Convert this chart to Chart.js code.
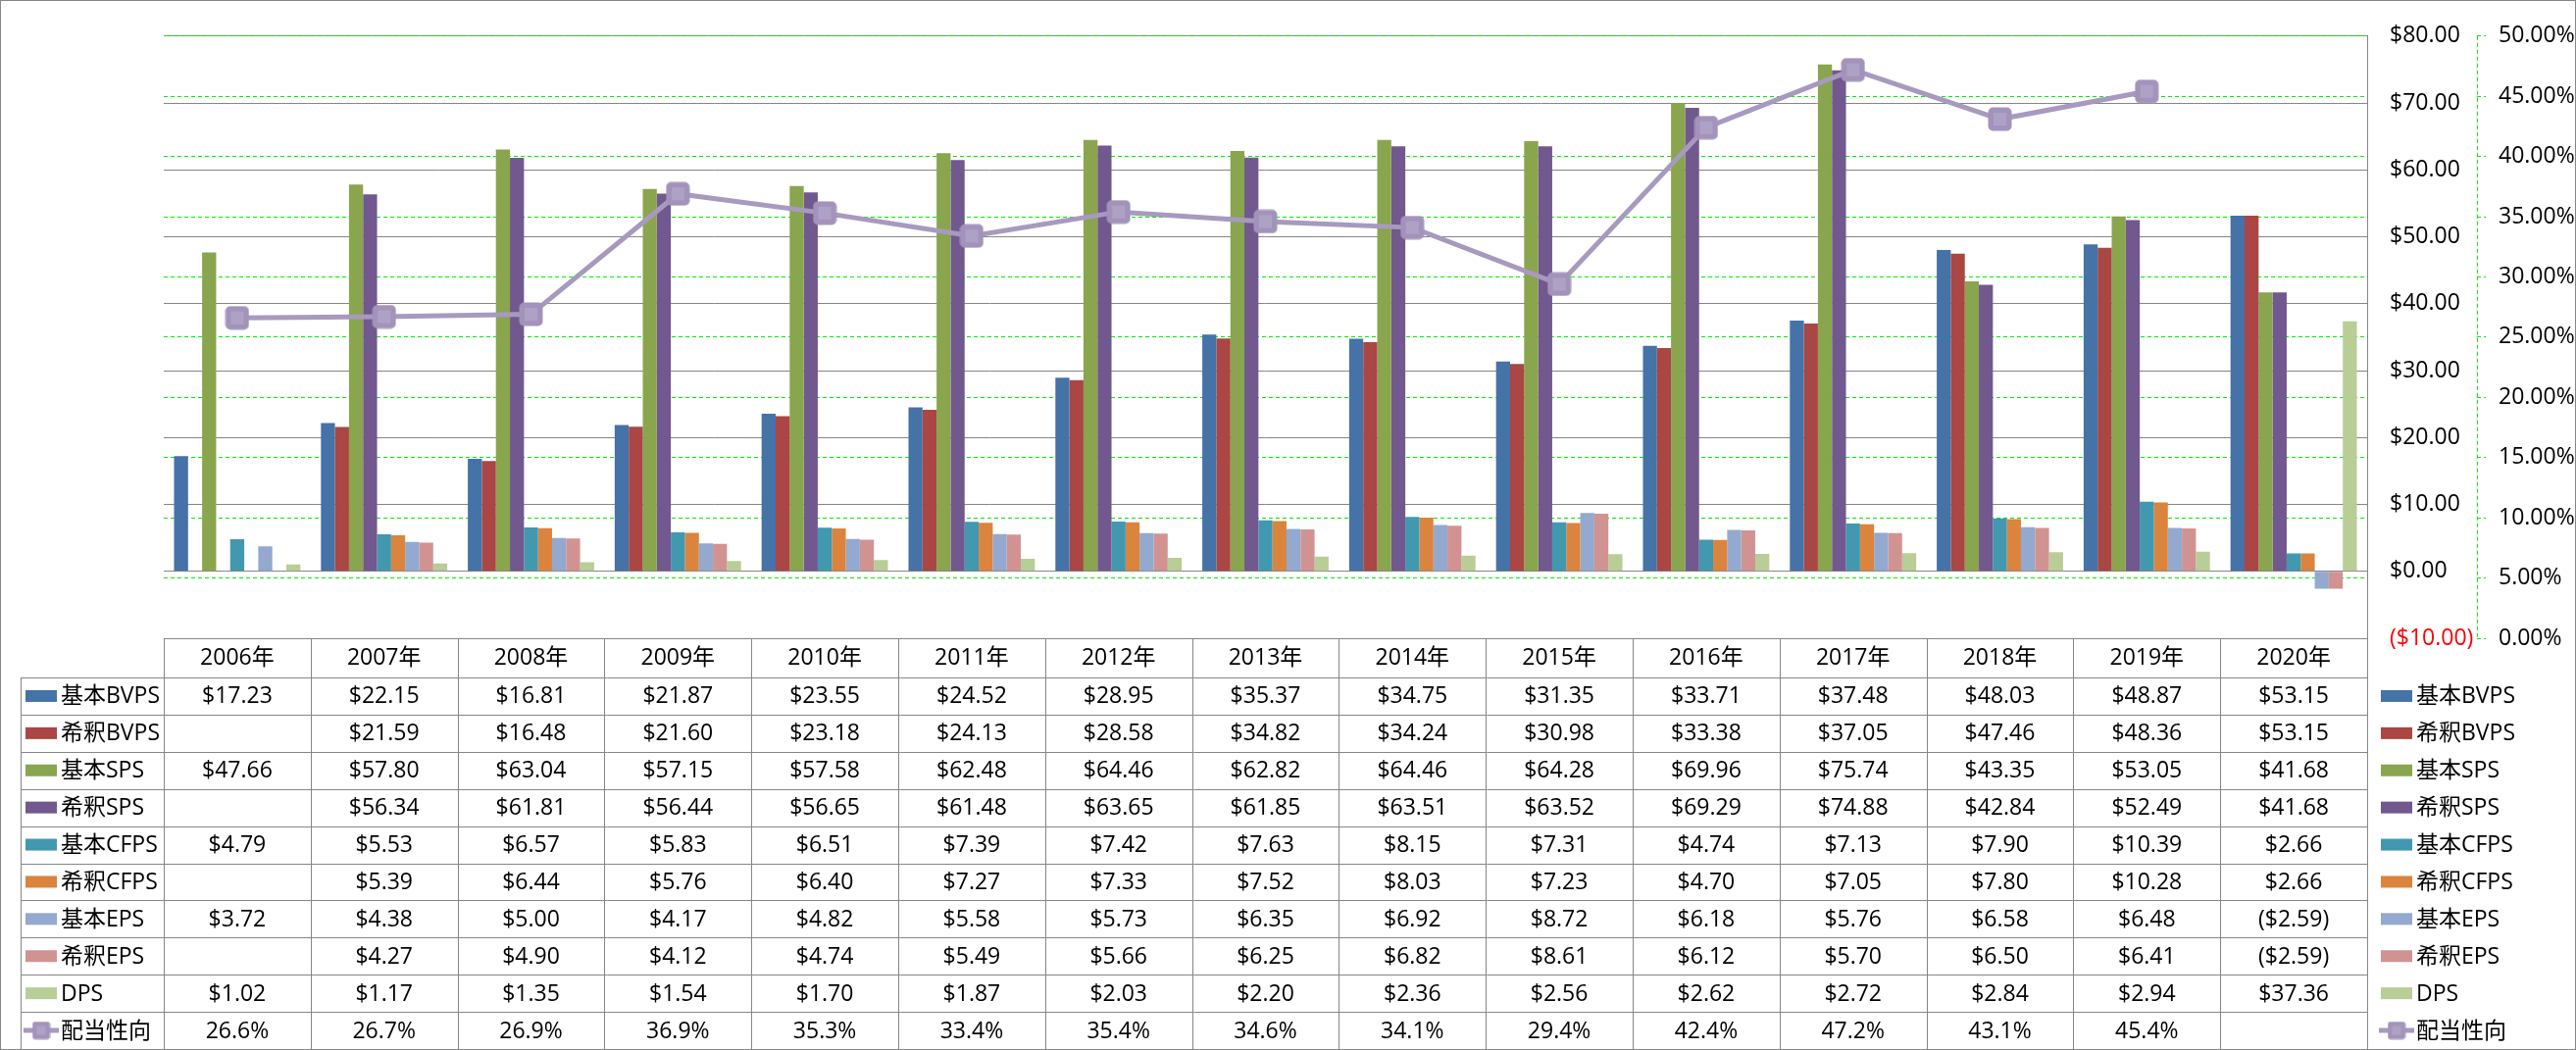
<!DOCTYPE html>
<html>
<head>
<meta charset="utf-8">
<title>BVPS / SPS / CFPS / EPS / DPS</title>
<script src="https://cdn.jsdelivr.net/npm/chart.js@4.4.0/dist/chart.umd.min.js"></script>
<style>
  body { margin: 0; background: #fff; }
  canvas { display: block; }
</style>
</head>
<body>
<canvas id="chart" width="2627" height="1071"></canvas>
<script>
// data
const years = ['2006年', '2007年', '2008年', '2009年', '2010年', '2011年', '2012年', '2013年',
               '2014年', '2015年', '2016年', '2017年', '2018年', '2019年', '2020年'];

const basicBvps   = [17.23, 22.15, 16.81, 21.87, 23.55, 24.52, 28.95, 35.37, 34.75, 31.35, 33.71, 37.48, 48.03, 48.87, 53.15];
const dilutedBvps = [null, 21.59, 16.48, 21.60, 23.18, 24.13, 28.58, 34.82, 34.24, 30.98, 33.38, 37.05, 47.46, 48.36, 53.15];
const basicSps    = [47.66, 57.80, 63.04, 57.15, 57.58, 62.48, 64.46, 62.82, 64.46, 64.28, 69.96, 75.74, 43.35, 53.05, 41.68];
const dilutedSps  = [null, 56.34, 61.81, 56.44, 56.65, 61.48, 63.65, 61.85, 63.51, 63.52, 69.29, 74.88, 42.84, 52.49, 41.68];
const basicCfps   = [4.79, 5.53, 6.57, 5.83, 6.51, 7.39, 7.42, 7.63, 8.15, 7.31, 4.74, 7.13, 7.90, 10.39, 2.66];
const dilutedCfps = [null, 5.39, 6.44, 5.76, 6.40, 7.27, 7.33, 7.52, 8.03, 7.23, 4.70, 7.05, 7.80, 10.28, 2.66];
const basicEps    = [3.72, 4.38, 5.00, 4.17, 4.82, 5.58, 5.73, 6.35, 6.92, 8.72, 6.18, 5.76, 6.58, 6.48, -2.59];
const dilutedEps  = [null, 4.27, 4.90, 4.12, 4.74, 5.49, 5.66, 6.25, 6.82, 8.61, 6.12, 5.70, 6.50, 6.41, -2.59];
const dps         = [1.02, 1.17, 1.35, 1.54, 1.70, 1.87, 2.03, 2.20, 2.36, 2.56, 2.62, 2.72, 2.84, 2.94, 37.36];
const payoutRatio = [26.6, 26.7, 26.9, 36.9, 35.3, 33.4, 35.4, 34.6, 34.1, 29.4, 42.4, 47.2, 43.1, 45.4, null];

const barNames = ['基本BVPS', '希釈BVPS', '基本SPS', '希釈SPS', '基本CFPS', '希釈CFPS', '基本EPS', '希釈EPS', 'DPS'];
const barValues = [basicBvps, dilutedBvps, basicSps, dilutedSps, basicCfps, dilutedCfps, basicEps, dilutedEps, dps];
const lineName = '配当性向';

// styles
const barColors = ['#4572A7', '#AA4643', '#89A54E', '#71588F', '#4198AF', '#DB843D', '#93A9CF', '#D19392', '#B9CD96'];
const lineColor = '#A899BF';
const gridGray = '#868686';
const gridGreen = '#00EE00';
const tableFont = '23px "Open Sans", "Noto Sans CJK JP", sans-serif';
const legendFont = '23px "Open Sans", "Noto Sans CJK JP", sans-serif';
const axisFont = { family: '"Open Sans", sans-serif', size: 23 };

// rounded square marker
function makeMarker(size) {
  const c = document.createElement('canvas');
  c.width = size; c.height = size;
  const g = c.getContext('2d');
  const r = Math.round(size * 0.18);
  g.fillStyle = '#A393BB';
  g.beginPath();
  g.roundRect(0.5, 0.5, size - 1, size - 1, r);
  g.fill();
  g.fillStyle = '#AEA1C6';
  const p = Math.round(size * 0.25);
  g.fillRect(p, p, size - 2 * p, size - 2 * p);
  return c;
}
const bigMarker = makeMarker(25);
const smallMarker = makeMarker(19);

function money(v) {
  if (v === null || v === undefined) return '';
  return v < 0 ? '($' + Math.abs(v).toFixed(2) + ')' : '$' + v.toFixed(2);
}

const datasets = barValues.map((vals, i) => ({
  type: 'bar',
  label: barNames[i],
  data: vals,
  backgroundColor: barColors[i],
  borderWidth: 0,
  yAxisID: 'y',
  categoryPercentage: 0.86,
  barPercentage: 1.0
}));
datasets.push({
  type: 'line',
  label: lineName,
  data: payoutRatio,
  yAxisID: 'y2',
  borderColor: lineColor,
  borderWidth: 5,
  pointStyle: bigMarker,
  pointRadius: 13,
  tension: 0,
  spanGaps: false,
  order: -1
});

// data table under the plot and legend on the right
const tablePlugin = {
  id: 'dataTable',
  afterDraw(chart) {
    const ctx = chart.ctx;
    const area = chart.chartArea;
    const xs = chart.scales.x;
    const W = chart.width, H = chart.height;
    const colW = (area.right - area.left) / years.length;
    const headTop = area.bottom;
    const bodyTop = headTop + 40;
    const bodyBottom = H - 1;
    const labelLeft = 21;
    const nRows = barNames.length + 1;
    const rowH = (bodyBottom - bodyTop) / nRows;
    const px = v => Math.round(v) + 0.5;

    ctx.save();
    // grid lines of the table
    ctx.strokeStyle = gridGray;
    ctx.lineWidth = 1;
    ctx.beginPath();
    ctx.moveTo(area.left, px(headTop)); ctx.lineTo(area.right, px(headTop));
    for (let k = 0; k <= nRows; k++) {
      const y = px(bodyTop + k * rowH);
      ctx.moveTo(labelLeft, y); ctx.lineTo(area.right, y);
    }
    ctx.moveTo(px(labelLeft), bodyTop); ctx.lineTo(px(labelLeft), bodyBottom);
    for (let j = 0; j <= years.length; j++) {
      const x = px(area.left + j * colW);
      ctx.moveTo(x, headTop); ctx.lineTo(x, bodyBottom);
    }
    ctx.stroke();

    // outer frame of the whole chart
    ctx.strokeRect(0.5, 0.5, W - 1, H - 1);

    // dashed secondary axis line
    const y2 = chart.scales.y2;
    ctx.strokeStyle = gridGreen;
    ctx.setLineDash([4, 3]);
    ctx.beginPath();
    ctx.moveTo(px(y2.left), area.top); ctx.lineTo(px(y2.left), area.bottom);
    ctx.stroke();
    ctx.setLineDash([]);

    // header
    ctx.fillStyle = '#000';
    ctx.textBaseline = 'middle';
    ctx.textAlign = 'center';
    ctx.font = tableFont;
    years.forEach((yr, j) => {
      ctx.fillText(yr, xs.getPixelForValue(j), headTop + 20);
    });

    const drawKey = (i, cy, left) => {
      if (i < barNames.length) {
        ctx.fillStyle = barColors[i];
        ctx.fillRect(left, cy - 6, 32, 12);
      } else {
        ctx.strokeStyle = lineColor;
        ctx.lineWidth = 5;
        ctx.beginPath();
        ctx.moveTo(left - 2, cy); ctx.lineTo(left + 34, cy);
        ctx.stroke();
        ctx.drawImage(smallMarker, left + 16 - 9.5, cy - 9.5);
      }
    };

    for (let i = 0; i < nRows; i++) {
      const cy = bodyTop + (i + 0.5) * rowH;
      const name = i < barNames.length ? barNames[i] : lineName;
      // row label with key
      drawKey(i, cy, 26);
      ctx.fillStyle = '#000';
      ctx.textAlign = 'left';
      ctx.font = tableFont;
      ctx.fillText(name, 62, cy + 1);
      // values
      ctx.textAlign = 'center';
      years.forEach((yr, j) => {
        let txt;
        if (i < barNames.length) txt = money(barValues[i][j]);
        else txt = payoutRatio[j] === null ? '' : payoutRatio[j].toFixed(1) + '%';
        ctx.fillText(txt, xs.getPixelForValue(j), cy + 1);
      });
      // legend on the right
      drawKey(i, cy, 2428);
      ctx.fillStyle = '#000';
      ctx.textAlign = 'left';
      ctx.font = legendFont;
      ctx.fillText(name, 2464, cy + 1);
    }
    ctx.restore();
  }
};

new Chart(document.getElementById('chart'), {
  data: { labels: years, datasets: datasets },
  options: {
    responsive: false,
    animation: false,
    layout: { padding: { left: 167, right: 0, top: 15, bottom: 420 } },
    plugins: {
      legend: { display: false },
      tooltip: { enabled: false }
    },
    scales: {
      x: {
        type: 'category',
        display: false,
        offset: true
      },
      y: {
        position: 'right',
        weight: 0,
        min: -10,
        max: 80,
        afterFit: s => { s.width = 112; },
        grid: { color: gridGray, lineWidth: 1, drawTicks: false },
        border: { display: true, color: gridGray, width: 1 },
        ticks: {
          stepSize: 10,
          padding: 23,
          font: axisFont,
          color: c => (c.tick && c.tick.value < 0 ? '#FF0000' : '#000000'),
          callback: v => money(v)
        }
      },
      y2: {
        position: 'right',
        weight: 1,
        min: 0,
        max: 50,
        afterFit: s => { s.width = 101; },
        grid: {
          color: gridGreen,
          lineWidth: 1,
          drawTicks: true,
          tickLength: 9,
          tickColor: gridGreen,
          tickBorderDash: [4, 3]
        },
        border: { display: false, dash: [4, 3] },
        ticks: {
          stepSize: 5,
          padding: 13,
          font: axisFont,
          color: '#000000',
          callback: v => v.toFixed(2) + '%'
        }
      }
    }
  },
  plugins: [tablePlugin]
});
</script>
</body>
</html>
